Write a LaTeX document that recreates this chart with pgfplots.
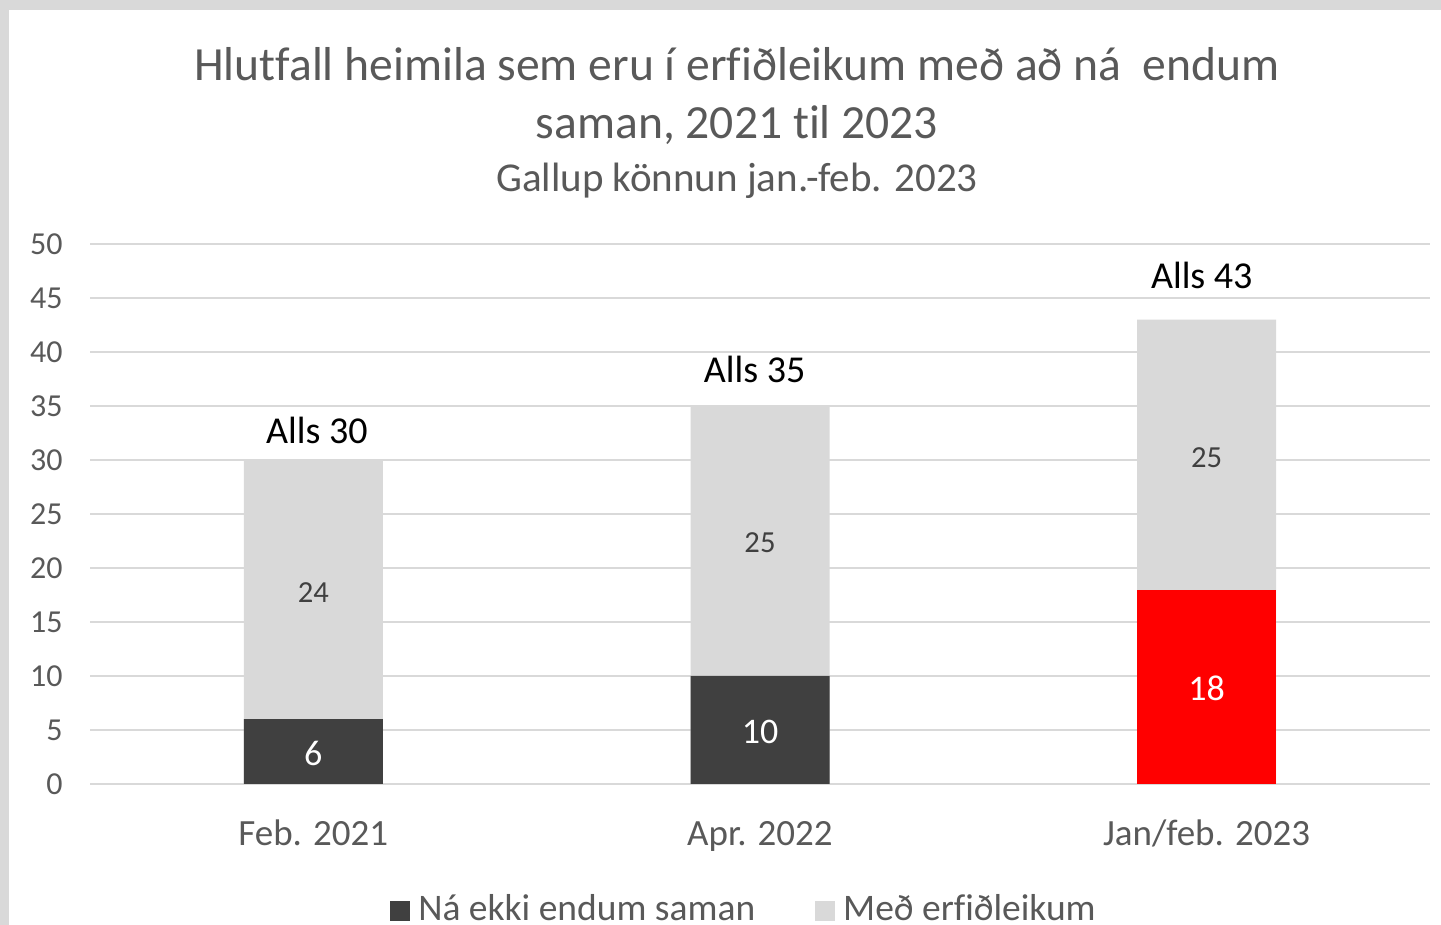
\documentclass[border=0pt]{standalone}
\usepackage{pgfplots}
\pgfplotsset{compat=1.18}
\usepackage{fontspec}
\setmainfont[Ligatures=NoCommon]{Carlito}
\definecolor{darkbar}{HTML}{404040}
\definecolor{lightbar}{HTML}{D9D9D9}
\definecolor{txtgray}{HTML}{595959}
\definecolor{gridgray}{HTML}{D9D9D9}
\definecolor{framegray}{HTML}{D9D9D9}
\begin{document}
\begin{tikzpicture}
\useasboundingbox (-45pt,-70.5pt) rectangle (675.5pt,392pt);
\fill[framegray] (-45pt,-70.5pt) rectangle (675.5pt,392pt);
\fill[white] (-40.5pt,-70.5pt) rectangle (675.5pt,387pt);
\node[anchor=base, text=txtgray, font=\fontsize{23.8}{28}\selectfont] at (323.5pt,351.5pt) {Hlutfall heimila sem eru í erfiðleikum með að ná~ endum};
\node[anchor=base, text=txtgray, font=\fontsize{23.8}{28}\selectfont] at (323.5pt,322.5pt) {saman, 2021 til 2023};
\node[anchor=base, text=txtgray, font=\fontsize{20.5}{24}\selectfont] at (323.5pt,296pt) {Gallup könnun jan.-feb. 2023};
\begin{axis}[
  at={(0,0)}, anchor=south west,
  scale only axis, width=670pt, height=270pt,
  xmin=-0.5, xmax=2.5, ymin=0, ymax=50,
  ybar, bar shift=0pt, bar width=69.5pt,
  xtick={0,1,2}, xticklabels={Feb. 2021, Apr. 2022, Jan/feb. 2023},
  ytick={0,5,...,50},
  ymajorgrids, grid style={draw=gridgray, line width=1pt},
  axis line style={draw=none}, major tick length=0pt,
  tick label style={text=txtgray},
  yticklabel style={font=\fontsize{16}{19}\selectfont, anchor=east, inner sep=0pt, xshift=-13.5pt},
  xticklabel style={font=\fontsize{18.5}{22}\selectfont, anchor=base, inner sep=0pt, yshift=-31pt},
  /pgf/number format/assume math mode=true,
  legend style={at={(rel axis cs:0.4888,-0.2315)}, anchor=center, draw=none, fill=none,
    legend columns=2, font=\fontsize{18.75}{22}\selectfont, text=txtgray,
    /tikz/every even column/.append style={column sep=28pt},
    /tikz/every odd column/.append style={column sep=2pt}},
  legend image code/.code={\fill[#1] (0pt,-6pt) rectangle (10pt,4pt);},
  reverse legend,
  clip=false,
]
\addplot[fill=lightbar, draw=none] coordinates {(0,30) (1,35) (2,43)};
\addlegendentry{Með erfiðleikum}
\addplot[fill=darkbar, draw=none] coordinates {(0,6) (1,10)};
\addlegendentry{Ná ekki endum saman}
\addplot[fill=red, draw=none, forget plot] coordinates {(2,18)};
% labels
\addplot[only marks, mark=none, forget plot, point meta=explicit symbolic, nodes near coords,
  every node near coord/.style={anchor=center, text=white, font=\fontsize{18}{21}\selectfont}]
  coordinates {(0,2.85)[6] (1,4.85)[10] (2,8.85)[18]};
\addplot[only marks, mark=none, forget plot, point meta=explicit symbolic, nodes near coords,
  every node near coord/.style={anchor=center, text=darkbar, font=\fontsize{15.3}{18}\selectfont}]
  coordinates {(0,17.75)[24] (1,22.3)[25] (2,30.2)[25]};
\addplot[only marks, mark=none, forget plot, point meta=explicit symbolic, nodes near coords,
  every node near coord/.style={anchor=center, text=black, font=\fontsize{19}{22}\selectfont}]
  coordinates {(0.008,32.7)[Alls 30] (0.988,38.4)[Alls 35] (1.989,47.1)[Alls 43]};
\end{axis}
\end{tikzpicture}
\end{document}
